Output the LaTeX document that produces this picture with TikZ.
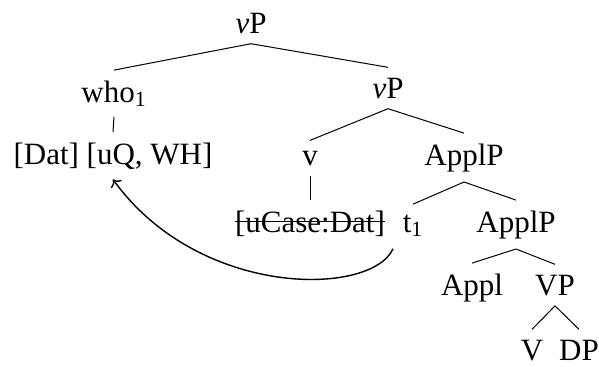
\documentclass[tikz,border=0pt]{standalone}
\usepackage{fontspec}
\setmainfont{Liberation Serif}
\usepackage{tikz}
\usetikzlibrary{arrows.meta}

\begin{document}
\begin{tikzpicture}[
  x=0.5pt, y=-0.5pt,
  cat/.style={anchor=base, inner xsep=0pt, inner ysep=5pt, font=\fontsize{15.5}{18}\selectfont},
  branch/.style={line width=0.5pt},
  move/.style={->, line width=0.7pt}
]
\useasboundingbox (0,0) rectangle (599,366);
\node[cat] (vP1) at (251,33) {\textit{v}P};
\node[cat] (who) at (114,102) {who\textsubscript{1}};
\node[cat] (vP2) at (388,98) {\textit{v}P};
\node[cat] (whoFeat) at (113,164) {[Dat] [uQ, WH]};
\node[cat] (v) at (310,165) {v};
\node[cat] (applP1) at (464,165) {ApplP};
\node[cat] (caseFeat) at (310,232) {[uCase:Dat]};
\node[cat] (t1) at (413,232) {t\textsubscript{1}};
\node[cat] (applP2) at (516,232) {ApplP};
\node[cat] (appl) at (472,295) {Appl};
\node[cat] (VP) at (555,295) {VP};
\node[cat] (V) at (532,360) {V};
\node[cat] (DP) at (579,360) {DP};
\draw[branch] (vP1.south) -- (who.north);
\draw[branch] (vP1.south) -- (vP2.north);
\draw[branch] (who.south) -- (whoFeat.north);
\draw[branch] (vP2.south) -- (v.north);
\draw[branch] (vP2.south) -- (applP1.north);
\draw[branch] (v.south) -- (caseFeat.north);
\draw[branch] (applP1.south) -- (t1.north);
\draw[branch] (applP1.south) -- (applP2.north);
\draw[branch] (applP2.south) -- (appl.north);
\draw[branch] (applP2.south) -- (VP.north);
\draw[branch] (VP.south) -- (V.north);
\draw[branch] (VP.south) -- (DP.north);
\draw[branch] ([yshift=5.3pt]caseFeat.base west) -- ([yshift=5.3pt]caseFeat.base east);
\draw[move] ([xshift=-10pt,yshift=-1pt]t1.south) .. controls +(-22,48) and +(86,119) .. (whoFeat.south);
\end{tikzpicture}
\end{document}
